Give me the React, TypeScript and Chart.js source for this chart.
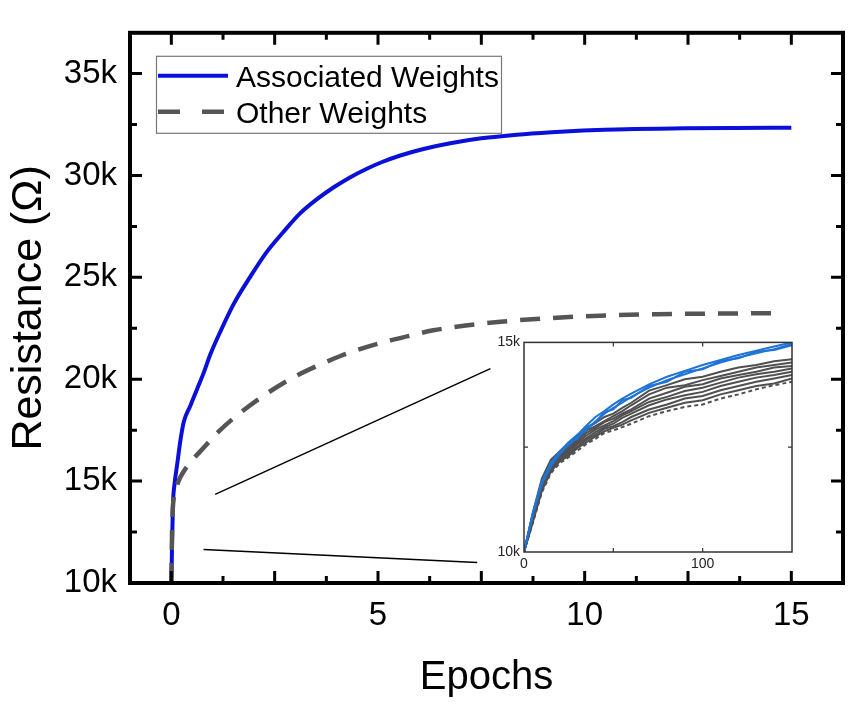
import React, { useEffect, useRef } from "react";
import { Chart, registerables } from "chart.js";

Chart.register(...registerables);

const FONT = "'Liberation Sans', Arial, sans-serif";

// main curves: epochs vs resistance (kΩ)
const assocEpochs = [0, 0.01, 0.02, 0.04, 0.08, 0.14, 0.22, 0.3, 0.46, 0.62, 0.78, 0.94, 1.2, 1.51, 1.9, 2.31, 2.7, 3.12, 3.5, 3.93, 4.3, 4.73, 5.1, 5.54, 6.1, 6.75, 7.5, 8.36, 9.2, 9.96, 11.0, 12.4, 13.6, 15];
const assocRes = [10, 11.0, 12.2, 13.9, 14.9, 15.8, 17.0, 17.9, 18.7, 19.5, 20.3, 21.2, 22.4, 23.7, 25.0, 26.25, 27.2, 28.15, 28.8, 29.42, 29.88, 30.33, 30.66, 30.98, 31.3, 31.58, 31.82, 32.0, 32.12, 32.2, 32.27, 32.31, 32.33, 32.34];

const otherEpochs = [0, 0.02, 0.06, 0.14, 0.22, 0.45, 0.7, 1.18, 1.67, 2.31, 2.96, 3.6, 4.09, 4.6, 5.14, 5.7, 6.34, 7.07, 7.96, 9.17, 10.37, 11.75, 13.2, 14.55];
const otherRes = [10, 12.8, 14.2, 14.8, 15.2, 15.9, 16.46, 17.5, 18.36, 19.3, 20.1, 20.72, 21.14, 21.5, 21.82, 22.1, 22.4, 22.62, 22.82, 23.0, 23.12, 23.19, 23.22, 23.24];

// zoom guide lines
const guideUpperX = [1.06, 7.72];
const guideUpperY = [14.35, 20.52];
const guideLowerX = [0.78, 7.4];
const guideLowerY = [11.64, 11.0];

const xLabelTicks = [0, 5, 10, 15];
const xMajorTicks = [0, 2.5, 5, 7.5, 10, 12.5, 15];
const xMinorTicks = [1.25, 3.75, 6.25, 8.75, 11.25, 13.75];
const yLabelTicks = [10, 15, 20, 25, 30, 35];
const yMinorTicks = [12.5, 17.5, 22.5, 27.5, 32.5];

const legendLabels = ["Associated Weights", "Other Weights"];

// inset: first steps of training
const insetSteps = [0, 5, 10, 15, 20, 25, 30, 35, 40, 45, 50, 55, 60, 70, 80, 90, 100, 110, 120, 130, 140, 150];
const insetAssoc = [
  [10, 10.95, 11.68, 12.12, 12.40, 12.62, 12.80, 13.02, 13.22, 13.36, 13.52, 13.66, 13.78, 14.00, 14.18, 14.32, 14.46, 14.58, 14.70, 14.80, 14.90, 15.00],
  [10, 10.90, 11.62, 12.04, 12.36, 12.55, 12.74, 12.92, 13.12, 13.30, 13.44, 13.56, 13.70, 13.92, 14.10, 14.24, 14.38, 14.52, 14.64, 14.74, 14.84, 14.96],
  [10, 10.92, 11.66, 12.08, 12.33, 12.60, 12.70, 12.98, 13.08, 13.34, 13.40, 13.62, 13.68, 13.96, 14.06, 14.30, 14.36, 14.56, 14.62, 14.78, 14.82, 14.93],
];
const insetOther = [
  [10, 10.95, 11.75, 12.20, 12.40, 12.55, 12.78, 12.95, 13.08, 13.22, 13.30, 13.44, 13.56, 13.85, 13.98, 14.12, 14.18, 14.30, 14.40, 14.46, 14.55, 14.60],
  [10, 10.90, 11.70, 12.14, 12.36, 12.50, 12.70, 12.90, 13.00, 13.12, 13.24, 13.36, 13.50, 13.76, 13.92, 13.98, 14.10, 14.20, 14.30, 14.40, 14.46, 14.52],
  [10, 10.86, 11.64, 12.10, 12.30, 12.46, 12.66, 12.84, 12.96, 13.10, 13.18, 13.30, 13.40, 13.66, 13.80, 13.94, 14.00, 14.14, 14.22, 14.30, 14.40, 14.44],
  [10, 10.82, 11.58, 12.04, 12.28, 12.42, 12.62, 12.78, 12.92, 13.02, 13.12, 13.26, 13.36, 13.58, 13.70, 13.84, 13.92, 14.04, 14.16, 14.24, 14.30, 14.38],
  [10, 10.78, 11.54, 12.00, 12.24, 12.38, 12.58, 12.72, 12.86, 12.98, 13.06, 13.20, 13.30, 13.50, 13.64, 13.74, 13.82, 13.96, 14.06, 14.16, 14.22, 14.30],
  [10, 10.75, 11.50, 11.96, 12.20, 12.34, 12.52, 12.68, 12.80, 12.94, 13.00, 13.10, 13.22, 13.40, 13.52, 13.66, 13.72, 13.86, 13.96, 14.06, 14.14, 14.22],
  [10, 10.72, 11.46, 11.92, 12.16, 12.30, 12.48, 12.62, 12.76, 12.88, 12.96, 13.04, 13.14, 13.32, 13.44, 13.56, 13.62, 13.76, 13.86, 13.96, 14.02, 14.14],
  [10, 10.70, 11.42, 11.88, 12.12, 12.26, 12.42, 12.58, 12.70, 12.84, 12.90, 12.98, 13.06, 13.24, 13.36, 13.46, 13.52, 13.66, 13.76, 13.88, 13.98, 14.06],
];
const insetXLabels = [0, 100];
const insetXMarks = [50, 100];
const insetYLabels = [10, 15];
const insetYMarks = [12.5];

const pts = (xs: number[], ys: number[]) => xs.map((x, i) => ({ x, y: ys[i] }));

// box around the plot area with inward ticks on all four sides
function makeFrame(id: string, cfg: any) {
  return {
    id,
    afterDatasetsDraw(chart: any) {
      const { ctx, chartArea: a, scales } = chart;
      ctx.save();
      ctx.strokeStyle = cfg.color;
      ctx.lineWidth = cfg.tickWidth;
      ctx.beginPath();
      for (const [vals, len] of cfg.x) {
        for (const v of vals) {
          const px = scales.x.getPixelForValue(v);
          ctx.moveTo(px, a.bottom);
          ctx.lineTo(px, a.bottom - len);
          ctx.moveTo(px, a.top);
          ctx.lineTo(px, a.top + len);
        }
      }
      for (const [vals, len] of cfg.y) {
        for (const v of vals) {
          const py = scales.y.getPixelForValue(v);
          ctx.moveTo(a.left, py);
          ctx.lineTo(a.left + len, py);
          ctx.moveTo(a.right, py);
          ctx.lineTo(a.right - len, py);
        }
      }
      ctx.stroke();
      ctx.lineWidth = cfg.lineWidth;
      ctx.strokeRect(a.left, a.top, a.right - a.left, a.bottom - a.top);
      ctx.restore();
    },
  };
}

const boxLegend = {
  id: "boxLegend",
  afterDraw(chart: any) {
    const { ctx, chartArea: a } = chart;
    const left = a.left + 26;
    const top = a.top + 23;
    ctx.save();
    ctx.strokeStyle = "#777";
    ctx.lineWidth = 1.2;
    ctx.strokeRect(left + 0.5, top + 0.5, 345, 77);
    ctx.font = `30px ${FONT}`;
    ctx.fillStyle = "#000";
    ctx.textBaseline = "alphabetic";
    legendLabels.forEach((label, i) => {
      const ds = chart.data.datasets.find((d: any) => d.label === label);
      if (!ds) return;
      const y = top + 20 + i * 36;
      ctx.save();
      ctx.strokeStyle = ds.borderColor;
      ctx.lineWidth = ds.borderWidth;
      ctx.setLineDash(ds.borderDash ? [22, 22] : []);
      ctx.beginPath();
      ctx.moveTo(left + 2, y);
      ctx.lineTo(left + 72, y);
      ctx.stroke();
      ctx.restore();
      ctx.fillText(label, left + 80, y + 11);
    });
    ctx.restore();
  },
};

function MainChart() {
  const ref = useRef<HTMLCanvasElement>(null);
  useEffect(() => {
    if (!ref.current) return;
    const chart = new Chart(ref.current, {
      type: "line",
      data: {
        datasets: [
          {
            label: "Associated Weights",
            data: pts(assocEpochs, assocRes),
            borderColor: "#0a10d8",
            borderWidth: 4,
            cubicInterpolationMode: "monotone",
            pointRadius: 0,
            order: 1,
          },
          {
            label: "Other Weights",
            data: pts(otherEpochs, otherRes),
            borderColor: "#555555",
            borderWidth: 4.5,
            borderDash: [20, 13],
            cubicInterpolationMode: "monotone",
            pointRadius: 0,
            order: 0,
          },
          {
            label: "guide-upper",
            data: pts(guideUpperX, guideUpperY),
            borderColor: "#000",
            borderWidth: 1.5,
            pointRadius: 0,
            order: 2,
          },
          {
            label: "guide-lower",
            data: pts(guideLowerX, guideLowerY),
            borderColor: "#000",
            borderWidth: 1.5,
            pointRadius: 0,
            order: 2,
          },
        ],
      },
      options: {
        animation: false,
        responsive: false,
        layout: { padding: { top: 11, right: 8, left: 0, bottom: 0 } },
        plugins: { legend: { display: false }, tooltip: { enabled: false } },
        scales: {
          x: {
            type: "linear",
            min: -1,
            max: 16.25,
            afterFit: (s: any) => { s.height = 124; },
            afterBuildTicks: (s: any) => { s.ticks = xLabelTicks.map((value) => ({ value })); },
            grid: { display: false, drawTicks: false },
            border: { display: false },
            ticks: { font: { family: FONT, size: 33 }, color: "#000", padding: 13, maxRotation: 0, autoSkip: false, callback: (v: any) => String(v) },
            title: { display: true, text: "Epochs", font: { family: FONT, size: 40 }, color: "#000", padding: { top: 0, bottom: 5 } },
          },
          y: {
            type: "linear",
            min: 10,
            max: 37,
            afterFit: (s: any) => { s.width = 130; },
            afterBuildTicks: (s: any) => { s.ticks = yLabelTicks.map((value) => ({ value })); },
            grid: { display: false, drawTicks: false },
            border: { display: false },
            ticks: { font: { family: FONT, size: 33 }, color: "#000", padding: 13, autoSkip: false, callback: (v: any) => `${v}k` },
            title: { display: true, text: "Resistance (Ω)", font: { family: FONT, size: 43 }, color: "#000", padding: { top: 3, bottom: 0 } },
          },
        },
      },
      plugins: [
        makeFrame("mainFrame", {
          color: "#000",
          lineWidth: 4,
          tickWidth: 3,
          x: [[xMajorTicks, 12], [xMinorTicks, 7]],
          y: [[yLabelTicks, 12], [yMinorTicks, 7]],
        }),
        boxLegend,
      ],
    } as any);
    return () => chart.destroy();
  }, []);
  return <canvas ref={ref} width={851} height={707} style={{ position: "absolute", left: 0, top: 0 }} />;
}

function InsetChart() {
  const ref = useRef<HTMLCanvasElement>(null);
  useEffect(() => {
    if (!ref.current) return;
    const lines = [
      ...insetAssoc.map((ys) => ({
        data: pts(insetSteps, ys),
        borderColor: "#1f74d6",
        borderWidth: 2,
        pointRadius: 0,
        order: 0,
      })),
      ...insetOther.map((ys, i) => ({
        data: pts(insetSteps, ys),
        borderColor: "#505050",
        borderWidth: 2,
        borderDash: i === insetOther.length - 1 ? [4, 3] : undefined,
        pointRadius: 0,
        order: 1,
      })),
    ];
    const chart = new Chart(ref.current, {
      type: "line",
      data: { datasets: lines },
      options: {
        animation: false,
        responsive: false,
        layout: { padding: { top: 10, right: 8, left: 0, bottom: 0 } },
        plugins: { legend: { display: false }, tooltip: { enabled: false } },
        scales: {
          x: {
            type: "linear",
            min: 0,
            max: 150,
            afterFit: (s: any) => { s.height = 23; },
            afterBuildTicks: (s: any) => { s.ticks = insetXLabels.map((value) => ({ value })); },
            grid: { display: false, drawTicks: false },
            border: { display: false },
            ticks: { font: { family: FONT, size: 14 }, color: "#222", padding: 4, maxRotation: 0, autoSkip: false, callback: (v: any) => String(v) },
          },
          y: {
            type: "linear",
            min: 10,
            max: 15,
            afterFit: (s: any) => { s.width = 34; },
            afterBuildTicks: (s: any) => { s.ticks = insetYLabels.map((value) => ({ value })); },
            grid: { display: false, drawTicks: false },
            border: { display: false },
            ticks: { font: { family: FONT, size: 14 }, color: "#222", padding: 4, autoSkip: false, callback: (v: any) => `${v}k` },
          },
        },
      },
      plugins: [
        makeFrame("insetFrame", {
          color: "#333",
          lineWidth: 1.5,
          tickWidth: 1.2,
          x: [[insetXMarks, 4]],
          y: [[insetYMarks, 4]],
        }),
      ],
    } as any);
    return () => chart.destroy();
  }, []);
  return <canvas ref={ref} width={310} height={245} style={{ position: "absolute", left: 490, top: 330 }} />;
}

export default function App() {
  return (
    <div style={{ position: "absolute", left: 0, top: 0, width: 851, height: 707, background: "#fff" }}>
      <MainChart />
      <InsetChart />
    </div>
  );
}
